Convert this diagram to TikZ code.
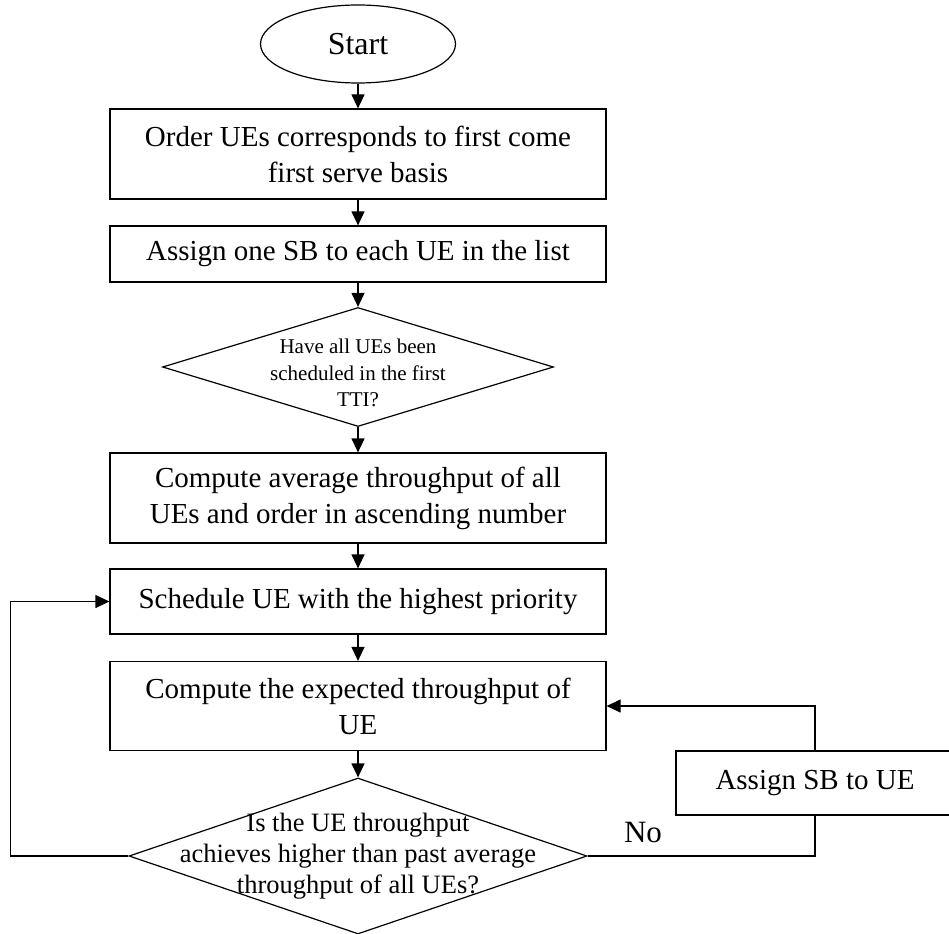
\documentclass[tikz,border=0pt]{standalone}
\usepackage{fontspec}
\setmainfont{Liberation Serif}
\usetikzlibrary{arrows.meta,shapes.geometric}

\tikzset{
  flowline/.style={line width=1.2pt},
  arr/.style={flowline,-{Triangle[length=14pt,width=13pt]}},
  procbox/.style={draw,line width=1.2pt,rectangle,minimum width=496pt,inner sep=0pt,align=center,font=\fontsize{29}{36}\selectfont},
  startbox/.style={draw,line width=1.2pt,ellipse,minimum width=195pt,minimum height=78pt,inner sep=0pt,font=\fontsize{32}{38}\selectfont},
  decision/.style={draw,line width=1.2pt,diamond,inner sep=0pt},
  qtext/.style={align=center,inner sep=0pt},
}

\begin{document}
\begin{tikzpicture}[x=1pt,y=-1pt]
  \clip (0,0) rectangle (949,933);
  \node[startbox] (start) at (358,44) {Start};
  \node[procbox,minimum height=90pt] (order) at (358,154) {Order UEs corresponds to first come\\first serve basis};
  \node[procbox,minimum height=56pt] (assignone) at (358,254) {Assign one SB to each UE in the list};
  \node[decision,minimum width=391pt,minimum height=119pt] (allsched) at (358,367) {};
  \node[qtext,font=\fontsize{21}{26.5}\selectfont] (allschedtxt) at ([yshift=-6pt]allsched.center) {Have all UEs been\\scheduled in the first\\TTI?};
  \node[procbox,minimum height=90pt] (avgtp) at (358,498) {Compute average throughput of all\\UEs and order in ascending number};
  \node[procbox,minimum height=65pt] (sched) at (358,601.5) {Schedule UE with the highest priority};
  \node[procbox,minimum height=89pt] (expect) at (358,706) {Compute the expected throughput of\\UE};
  \node[decision,minimum width=458pt,minimum height=156pt] (higher) at (358,856) {};
  \node[qtext,font=\fontsize{26.5}{31}\selectfont] (highertxt) at (higher.center) {Is the UE throughput\\achieves higher than past average\\throughput of all UEs?};
  \node[procbox,minimum width=278pt,minimum height=64pt] (assignsb) at (815,783) {Assign SB to UE};
  \node[font=\fontsize{31}{36}\selectfont] (nolbl) at (643,832) {No};

  % main flow
  \draw[arr] (start) -- (order);
  \draw[arr] (order) -- (assignone);
  \draw[arr] (assignone) -- (allsched);
  \draw[arr] (allsched) -- (avgtp);
  \draw[arr] (avgtp) -- (sched);
  \draw[arr] (sched) -- (expect);
  \draw[arr] (expect) -- (higher);
  % loops
  \draw[arr] (higher.west) -- ++(-118,0) |- (sched.west);
  \draw[flowline] (higher.east) -| (assignsb.south);
  \draw[arr] (assignsb.north) |- (expect.east);
\end{tikzpicture}
\end{document}
